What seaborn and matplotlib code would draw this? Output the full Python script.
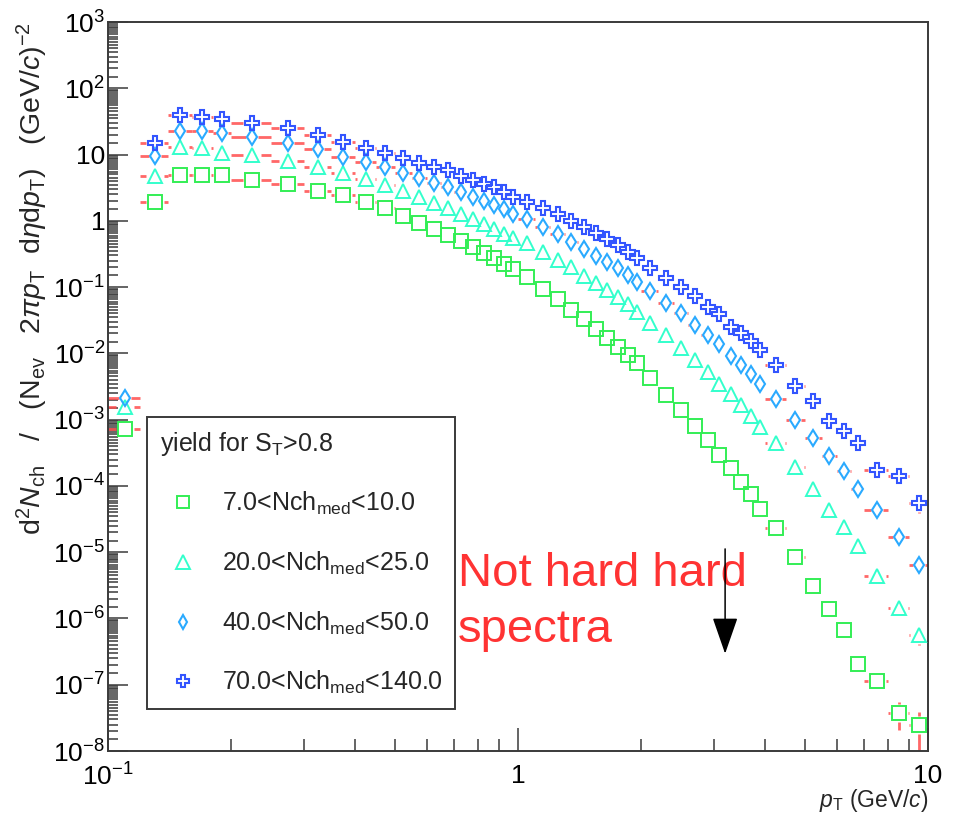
import numpy as np
import pandas as pd
import matplotlib
matplotlib.use("Agg")
import matplotlib.pyplot as plt
import seaborn as sns
from matplotlib.ticker import LogLocator, FixedLocator, FixedFormatter, NullFormatter
from matplotlib.collections import LineCollection
from matplotlib.lines import Line2D

# ---------------------------------------------------------------- data
pt_edges = [0.10, 0.12, 0.14, 0.16, 0.18, 0.20, 0.25, 0.30, 0.35, 0.40, 0.45,
            0.50, 0.55, 0.60, 0.65, 0.70, 0.75, 0.80, 0.85, 0.90, 0.95, 1.00,
            1.10, 1.20, 1.30, 1.40, 1.50, 1.60, 1.70, 1.80, 1.90, 2.00, 2.20,
            2.40, 2.60, 2.80, 3.00, 3.20, 3.40, 3.60, 3.80, 4.00, 4.50, 5.00,
            5.50, 6.00, 6.50, 7.00, 8.00, 9.00, 10.00]

yield_7_10 = [7.26e-4, 1.95, 4.92, 4.92, 4.85, 4.14, 3.60, 2.85, 2.46, 1.95,
              1.55, 1.19, 0.939, 0.747, 0.613, 0.503, 0.400, 0.331, 0.273, 0.224,
              0.186, 0.140, 0.0939, 0.0664, 0.0453, 0.0326, 0.0234, 0.0170, 0.0125, 9.49e-3,
              7.19e-3, 4.22e-3, 2.32e-3, 1.40e-3, 8.06e-4, 4.87e-4, 2.94e-4, 1.86e-4, 1.15e-4, 7.52e-5,
              4.51e-5, 2.33e-5, 8.52e-6, 3.11e-6, 1.40e-6, 6.76e-7, 2.05e-7, 1.14e-7, 3.74e-8, 2.43e-8]

yield_20_25 = [1.56e-3, 4.80, 12.9, 12.4, 10.7, 9.86, 8.09, 6.57, 5.28, 4.29,
               3.48, 2.82, 2.29, 1.86, 1.57, 1.27, 1.07, 0.898, 0.755, 0.634,
               0.543, 0.456, 0.343, 0.257, 0.200, 0.148, 0.117, 0.0907, 0.0719, 0.0558,
               0.0427, 0.0291, 0.0190, 0.0120, 7.84e-3, 5.26e-3, 3.47e-3, 2.42e-3, 1.67e-3, 1.15e-3,
               7.87e-4, 4.42e-4, 1.92e-4, 9.04e-5, 4.32e-5, 2.38e-5, 1.22e-5, 4.41e-6, 1.45e-6, 5.54e-7]

yield_40_50 = [2.15e-3, 9.63, 22.9, 22.3, 21.4, 18.2, 15.1, 12.1, 9.30, 7.81,
               6.43, 5.22, 4.39, 3.77, 3.21, 2.76, 2.32, 2.02, 1.74, 1.50,
               1.27, 1.05, 0.801, 0.634, 0.480, 0.373, 0.292, 0.240, 0.193, 0.153,
               0.121, 0.0886, 0.0584, 0.0412, 0.0272, 0.0192, 0.0138, 9.07e-3, 6.71e-3, 4.91e-3,
               3.50e-3, 2.07e-3, 1.00e-3, 5.26e-4, 2.78e-4, 1.65e-4, 9.11e-5, 4.29e-5, 1.67e-5, 6.46e-6]

yield_70_140 = [np.nan, 15.1, 39.6, 36.5, 34.4, 30.3, 24.9, 19.8, 15.7, 12.7,
                10.5, 8.98, 7.39, 6.57, 5.86, 4.76, 4.14, 3.60, 3.21, 2.76,
                2.32, 1.93, 1.55, 1.27, 1.01, 0.818, 0.650, 0.528, 0.433, 0.340,
                0.271, 0.195, 0.138, 0.101, 0.0737, 0.0494, 0.0394, 0.0254, 0.0202, 0.0154,
                0.0113, 6.71e-3, 3.23e-3, 1.94e-3, 9.59e-4, 6.78e-4, 4.47e-4, 1.75e-4, 1.39e-4, 5.56e-5]

# relative statistical uncertainty of the last nine bins (pT > 4 GeV/c)
rel_err_tail_7_10 = [0.05, 0.07, 0.10, 0.12, 0.15, 0.20, 0.25, 0.45, 0.62]
rel_err_tail_20_25 = [0.04, 0.06, 0.08, 0.10, 0.12, 0.15, 0.18, 0.22, 0.28]
rel_err_tail_40_50 = [0.04, 0.06, 0.08, 0.10, 0.12, 0.15, 0.18, 0.22, 0.28]
rel_err_tail_70_140 = [0.04, 0.06, 0.08, 0.10, 0.12, 0.15, 0.20, 0.22, 0.30]

series_labels = [r"7.0<Nch$_{\rm med}$<10.0", r"20.0<Nch$_{\rm med}$<25.0",
                 r"40.0<Nch$_{\rm med}$<50.0", r"70.0<Nch$_{\rm med}$<140.0"]
legend_title = r"yield for S$_{\rm T}$>0.8"

y_tick_values = [1e-8, 1e-7, 1e-6, 1e-5, 1e-4, 1e-3, 1e-2, 1e-1, 1, 10, 100, 1000]
y_tick_labels = [r"$10^{-8}$", r"$10^{-7}$", r"$10^{-6}$", r"$10^{-5}$", r"$10^{-4}$",
                 r"$10^{-3}$", r"$10^{-2}$", r"$10^{-1}$", "1", "10", r"$10^{2}$", r"$10^{3}$"]
x_tick_values = [0.1, 1, 10]
x_tick_labels = [r"$10^{-1}$", "1", "10"]

# ---------------------------------------------------------------- style
sns.set_theme(style="white")
plt.rcParams["font.family"] = ["Liberation Sans", "DejaVu Sans"]
plt.rcParams["mathtext.fontset"] = "custom"
plt.rcParams["mathtext.rm"] = "Liberation Sans"
plt.rcParams["mathtext.it"] = "Liberation Sans:italic"
plt.rcParams["mathtext.bf"] = "Liberation Sans:bold"
plt.rcParams["mathtext.sf"] = "Liberation Sans"

W, H = 962, 838
fig = plt.figure(figsize=(W / 100, H / 100), dpi=100)
ax = fig.add_axes([108 / W, 1 - 751 / H, (928 - 108) / W, (751 - 22) / H])
ax.set_xscale("log")
ax.set_yscale("log")
ax.set_xlim(0.1, 10)
ax.set_ylim(1e-8, 1e3)

edges = np.array(pt_edges)
pt_lo, pt_hi = edges[:-1], edges[1:]
pt_mid = 0.5 * (pt_lo + pt_hi)

styles = [
    dict(y=yield_7_10, err=rel_err_tail_7_10, marker="s", ms=10.0, mew=1.4,
         color="#33ee55", gx=9, gy=9),
    dict(y=yield_20_25, err=rel_err_tail_20_25, marker="^", ms=10.5, mew=1.4,
         color="#33ffcc", gx=9, gy=9),
    dict(y=yield_40_50, err=rel_err_tail_40_50, marker="d", ms=7.8, mew=1.5,
         color="#2aaaff", gx=6, gy=9),
    dict(y=yield_70_140, err=rel_err_tail_70_140, marker="P", ms=10.0, mew=1.5,
         color="#3355ff", gx=9, gy=9),
]

err_color = "#ff4d4d"


def error_segments(y, rel_tail, gx, gy):
    """Bin-width and vertical error bars, interrupted where the marker sits."""
    trans = ax.transData
    inv = trans.inverted()
    y = np.asarray(y, dtype=float)
    rel = np.concatenate([np.zeros(len(y) - len(rel_tail)), rel_tail])
    segs = []
    for xm, yv, a, b, r in zip(pt_mid, y, pt_lo, pt_hi, rel):
        if not np.isfinite(yv):
            continue
        cx, cy = trans.transform((xm, yv))
        lx = trans.transform((a, yv))[0]
        rx = trans.transform((b, yv))[0]
        if cx - gx > lx:
            segs.append(inv.transform([(lx, cy), (cx - gx, cy)]))
        if rx > cx + gx:
            segs.append(inv.transform([(cx + gx, cy), (rx, cy)]))
        if r > 0:
            ty = trans.transform((xm, yv * (1 + r)))[1]
            by = trans.transform((xm, max(yv * (1 - r), 1e-12)))[1]
            if ty > cy + gy:
                segs.append(inv.transform([(cx, cy + gy), (cx, ty)]))
            if by < cy - gy:
                segs.append(inv.transform([(cx, by), (cx, cy - gy)]))
    return segs


handles = []
for st, lab in zip(styles, series_labels):
    segs = error_segments(st["y"], st["err"], st["gx"], st["gy"])
    ax.add_collection(LineCollection(segs, colors=err_color, linewidths=2.0,
                                     alpha=0.85, zorder=2))
    df = pd.DataFrame({"pt": pt_mid, "yield": st["y"]}).dropna()
    sns.lineplot(data=df, x="pt", y="yield", ax=ax, errorbar=None, sort=True,
                 linestyle="", marker=st["marker"], markersize=st["ms"],
                 markerfacecolor="none", markeredgecolor=st["color"],
                 markeredgewidth=st["mew"], color=st["color"], zorder=3)
    handles.append(Line2D([], [], linestyle="", marker=st["marker"],
                          markersize=st["ms"] * 0.9, markerfacecolor="none",
                          markeredgecolor=st["color"], markeredgewidth=st["mew"],
                          label=lab))

# ---------------------------------------------------------------- axes
frame_color = "#3a3a3a"
for sp in ax.spines.values():
    sp.set_visible(True)
    sp.set_color(frame_color)
    sp.set_linewidth(1.4)

ax.xaxis.set_major_locator(FixedLocator(x_tick_values))
ax.xaxis.set_major_formatter(FixedFormatter(x_tick_labels))
ax.xaxis.set_minor_locator(LogLocator(base=10, subs=np.arange(2, 10), numticks=20))
ax.xaxis.set_minor_formatter(NullFormatter())

ax.yaxis.set_major_locator(FixedLocator(y_tick_values))
ax.yaxis.set_major_formatter(FixedFormatter(y_tick_labels))
ax.yaxis.set_minor_locator(LogLocator(base=10, subs=np.arange(1.5, 10, 0.5), numticks=40))
ax.yaxis.set_minor_formatter(NullFormatter())

ax.tick_params(axis="both", which="both", direction="in", colors=frame_color,
               labelcolor="black", width=1.1, top=False, right=False,
               bottom=True, left=True)
ax.tick_params(axis="x", which="major", length=16.5, pad=9, labelsize=19)
ax.tick_params(axis="x", which="minor", length=8.6)
ax.tick_params(axis="y", which="major", length=14.4, pad=2, labelsize=19)
ax.tick_params(axis="y", which="minor", length=7.2)

ax.set_xlabel(r"$\mathit{p}_{\rm T}$ (GeV/$\mathit{c}$)", fontsize=16.5, loc="right")
ax.xaxis.set_label_coords(1.0, -0.049)
ax.set_ylabel(r"d$^{2}\mathit{N}_{\rm ch}$   /   (N$_{\rm ev}$   2$\pi\mathit{p}_{\rm T}$  d$\eta$d$\mathit{p}_{\rm T}$)   (GeV/$\mathit{c}$)$^{-2}$",
              fontsize=20.5, loc="top")
ax.yaxis.set_label_coords(-0.071, 1.0)

# ---------------------------------------------------------------- legend
leg = ax.legend(handles=handles, title=legend_title, loc="upper left",
                bbox_to_anchor=(147 / W, 1 - 417 / H), bbox_transform=fig.transFigure,
                borderaxespad=0, fontsize=18, title_fontsize=18, alignment="left",
                frameon=True, fancybox=False, framealpha=1, edgecolor=frame_color,
                borderpad=0.5, labelspacing=1.3, handlelength=1.9, handletextpad=0.6)
leg.get_frame().set_linewidth(1.4)

# ---------------------------------------------------------------- annotation
ax.text(0.427, 0.150, "Not hard hard\nspectra", transform=ax.transAxes,
        color="#ff3333", fontsize=34, va="baseline", ha="left", linespacing=1.35)
ax.annotate("", xy=(3.2, 2.94e-7), xytext=(3.2, 1.12e-5), xycoords="data",
            arrowprops=dict(arrowstyle="-|>,head_length=23,head_width=8",
                            mutation_scale=1, color="black", lw=1.1,
                            shrinkA=0, shrinkB=0))

fig.savefig("out.png", dpi=100)
